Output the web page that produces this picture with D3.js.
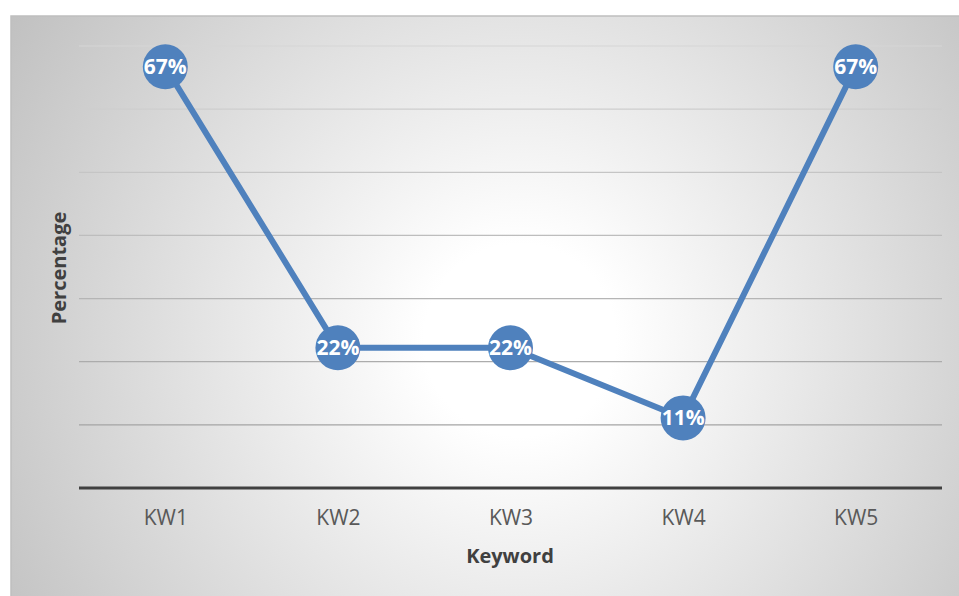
<!DOCTYPE html>
<html>
<head>
<meta charset="utf-8">
<script src="https://cdn.jsdelivr.net/npm/d3@7"></script>
<style>
  body { margin: 0; background: #fff; }
  svg { display: block; font-family: "Open Sans", sans-serif; }
</style>
</head>
<body>
<div id="chart"></div>
<script>
// dati
const keywords = ["KW1", "KW2", "KW3", "KW4", "KW5"];
const percentages = [66.7, 22.2, 22.2, 11.1, 66.7];
const yTicks = [0, 10, 20, 30, 40, 50, 60, 70];

const width = 959, height = 596;
const plot = { left: 79, right: 942, top: 46, bottom: 488 };

const svg = d3.select("#chart").append("svg")
  .attr("width", width)
  .attr("height", height);

// sfondo con gradiente radiale
const defs = svg.append("defs");
const grad = defs.append("radialGradient")
  .attr("id", "bg")
  .attr("gradientUnits", "userSpaceOnUse")
  .attr("cx", 520).attr("cy", 340).attr("r", 640);
grad.append("stop").attr("offset", 0).attr("stop-color", "#ffffff");
grad.append("stop").attr("offset", 0.15).attr("stop-color", "#ffffff");
grad.append("stop").attr("offset", 1).attr("stop-color", "#bcbcbc");

svg.append("rect")
  .attr("x", 11).attr("y", 16)
  .attr("width", width).attr("height", height)
  .attr("fill", "url(#bg)")
  .attr("stroke", "#bfbfbf")
  .attr("stroke-width", 1.5);

const x = d3.scalePoint()
  .domain(keywords)
  .range([plot.left, plot.right])
  .padding(0.5);

const y = d3.scaleLinear()
  .domain([0, 70])
  .range([plot.bottom, plot.top]);

// griglia (più chiara in alto)
const gridColor = d3.scaleLinear().domain([70, 10]).range(["#d6d6d6", "#a4a4a4"]);
svg.append("g")
  .selectAll("line")
  .data(yTicks.filter(t => t > 0))
  .enter()
  .append("line")
  .attr("x1", plot.left).attr("x2", plot.right)
  .attr("y1", d => y(d)).attr("y2", d => y(d))
  .attr("stroke", d => gridColor(d))
  .attr("stroke-width", 1.2);

// asse x
const xAxis = svg.append("g")
  .attr("transform", `translate(0,${plot.bottom})`)
  .call(d3.axisBottom(x).tickSize(0).tickPadding(22));
xAxis.select(".domain")
  .attr("d", `M${plot.left},0H${plot.right}`)
  .attr("stroke", "#404040")
  .attr("stroke-width", 3);
xAxis.selectAll("text")
  .attr("font-size", 21)
  .attr("font-family", "Open Sans, sans-serif")
  .attr("fill", "#595959");

// titoli assi
svg.append("text")
  .attr("x", 510).attr("y", 563)
  .attr("text-anchor", "middle")
  .attr("font-size", 20)
  .attr("font-weight", "bold")
  .attr("fill", "#404040")
  .text("Keyword");

svg.append("text")
  .attr("transform", "translate(66,268) rotate(-90)")
  .attr("text-anchor", "middle")
  .attr("font-size", 20)
  .attr("font-weight", "bold")
  .attr("fill", "#404040")
  .text("Percentage");

// linea
const line = d3.line()
  .x((d, i) => x(keywords[i]))
  .y(d => y(d));

svg.append("path")
  .datum(percentages)
  .attr("d", line)
  .attr("fill", "none")
  .attr("stroke", "#4f81bd")
  .attr("stroke-width", 6)
  .attr("stroke-linejoin", "round");

// marcatori con etichette
const pts = svg.append("g")
  .selectAll("g")
  .data(percentages)
  .enter()
  .append("g")
  .attr("transform", (d, i) => `translate(${x(keywords[i])},${y(d)})`);

pts.append("circle")
  .attr("r", 22.5)
  .attr("fill", "#4f81bd");

pts.append("text")
  .attr("text-anchor", "middle")
  .attr("dy", "0.36em")
  .attr("font-size", 21)
  .attr("font-weight", "bold")
  .attr("fill", "#fff")
  .text(d => Math.round(d) + "%");
</script>
</body>
</html>
